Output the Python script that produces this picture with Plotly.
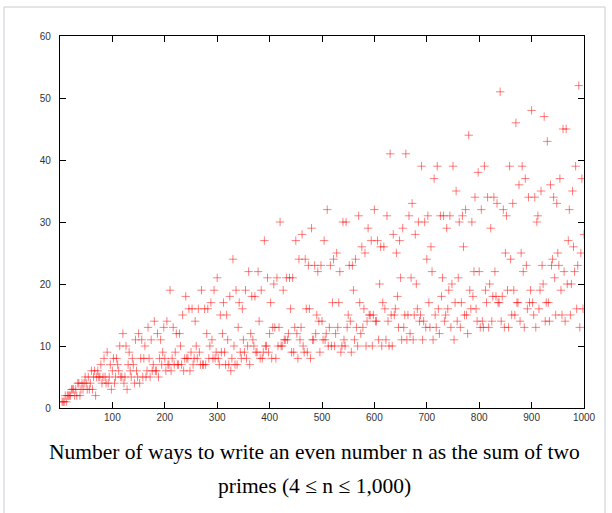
import plotly.graph_objects as go

# Even numbers n (4..1000) and number of ways to write n as a sum of two primes
n_values = list(range(4, 1001, 2))
ways = [
    1, 1, 1, 2, 1, 2, 2, 2, 2, 3,        # 4-22
    3, 3, 2, 3, 2, 4, 4, 2, 3, 4,        # 24-42
    3, 4, 5, 4, 3, 5, 3, 4, 6, 3,        # 44-62
    5, 6, 2, 5, 6, 5, 5, 7, 4, 5,        # 64-82
    8, 5, 4, 9, 4, 5, 7, 3, 6, 8,        # 84-102
    4, 5, 8, 7, 6, 10, 5, 5, 12, 4,      # 104-122
    5, 10, 3, 7, 9, 6, 5, 8, 7, 4,       # 124-142
    11, 6, 5, 12, 4, 8, 11, 5, 8, 10,    # 144-162
    5, 6, 13, 8, 5, 11, 6, 7, 14, 6,     # 164-182
    6, 12, 5, 8, 11, 7, 9, 13, 8, 6,     # 184-202
    14, 7, 7, 19, 6, 8, 13, 7, 9, 12,    # 204-222
    7, 7, 12, 10, 7, 15, 6, 8, 18, 8,    # 224-242
    8, 16, 6, 9, 16, 7, 8, 14, 10, 8,    # 244-262
    16, 9, 7, 19, 7, 7, 16, 7, 12, 16,   # 264-282
    8, 10, 17, 11, 8, 19, 8, 9, 21, 8,   # 284-302
    7, 15, 9, 12, 17, 9, 7, 15, 11, 7,   # 304-322
    18, 6, 8, 24, 10, 7, 19, 7, 13, 17,  # 324-342
    9, 8, 16, 11, 9, 19, 8, 10, 22, 7,   # 344-362
    12, 18, 11, 10, 18, 9, 9, 22, 14, 8, # 364-382
    19, 8, 9, 27, 10, 10, 21, 9, 12, 17, # 384-402
    8, 13, 20, 13, 8, 21, 10, 13, 30, 10,   # 404-422
    10, 19, 11, 11, 21, 11, 12, 21, 16, 9,  # 424-442
    21, 9, 13, 27, 12, 8, 24, 11, 13, 28,   # 444-462
    10, 9, 24, 16, 9, 23, 16, 8, 29, 11,    # 464-482
    11, 23, 12, 15, 22, 14, 9, 23, 14, 11,  # 484-502
    27, 11, 12, 32, 10, 13, 23, 10, 17, 24, # 504-522
    10, 12, 25, 13, 17, 22, 9, 10, 30, 11,  # 524-542
    10, 30, 13, 15, 23, 14, 9, 23, 19, 11,  # 544-562
    24, 13, 10, 31, 17, 12, 26, 13, 16, 25, # 564-582
    10, 14, 29, 15, 15, 27, 10, 15, 32, 14, # 584-602
    14, 27, 11, 20, 26, 10, 17, 26, 16, 11, # 604-622
    31, 14, 10, 41, 15, 10, 28, 15, 16, 25, # 624-642
    18, 13, 27, 21, 11, 29, 13, 15, 41, 11, # 644-662
    15, 31, 12, 21, 33, 11, 15, 28, 20, 16, # 664-682
    30, 14, 15, 39, 11, 14, 30, 13, 24, 31, # 684-702
    17, 13, 26, 22, 11, 37, 15, 13, 39, 16, # 704-722
    12, 31, 18, 21, 31, 14, 15, 29, 16, 19, # 724-742
    31, 13, 20, 39, 11, 17, 35, 14, 21, 30, # 744-762
    13, 17, 31, 26, 15, 32, 15, 12, 44, 19, # 764-782
    16, 30, 18, 22, 34, 16, 14, 38, 22, 13, # 784-802
    32, 14, 13, 39, 19, 17, 34, 13, 20, 29, # 804-822
    14, 18, 34, 22, 18, 33, 17, 17, 51, 14, # 824-842
    18, 32, 13, 25, 31, 19, 13, 39, 24, 15, # 844-862
    33, 19, 15, 46, 17, 17, 36, 14, 25, 39, # 864-882
    22, 13, 37, 23, 16, 34, 17, 19, 48, 17, # 884-902
    15, 34, 13, 30, 31, 16, 19, 35, 23, 20, # 904-922
    47, 14, 17, 43, 17, 14, 36, 23, 24, 34, # 924-942
    21, 15, 33, 25, 23, 37, 19, 15, 45, 22, # 944-962
    14, 45, 20, 27, 32, 15, 20, 35, 26, 22, # 964-982
    39, 16, 23, 52, 13, 25, 37, 16, 28,     # 984-1000
]
assert len(ways) == len(n_values)

x_ticks = [100, 200, 300, 400, 500, 600, 700, 800, 900, 1000]
y_ticks = [0, 10, 20, 30, 40, 50, 60]
caption_line1 = "Number of ways to write an even number n as the sum of two"
caption_line2 = "primes (4 \u2264 n \u2264 1,000)"

fig = go.Figure()
fig.add_trace(go.Scatter(
    x=n_values, y=ways, mode="markers",
    marker=dict(symbol="cross-thin", size=6,
                line=dict(color="rgba(255,0,0,0.5)", width=1)),
    hoverinfo="x+y", showlegend=False,
))

axis_common = dict(
    showline=True, linecolor="black", linewidth=1.2, mirror="ticks",
    ticks="inside", ticklen=6, tickcolor="black", tickwidth=1,
    showgrid=False, zeroline=False,
    tickfont=dict(family="Liberation Sans, Arial, sans-serif", size=10, color="#333"),
)
fig.update_xaxes(range=[0, 1000], tickvals=x_ticks, ticktext=[str(v) for v in x_ticks], **axis_common)
fig.update_yaxes(range=[0, 60], tickvals=y_ticks, ticktext=[str(v) for v in y_ticks],
                 ticklabelstandoff=6, **axis_common)

# thumbnail frame
fig.add_shape(type="rect", xref="paper", yref="paper",
              x0=(4 - 60) / 524, x1=(605 - 60) / 524,
              y0=(408 - 520) / 372, y1=(408 - 7) / 372,
              line=dict(color="#c8ccd1", width=1), fillcolor="rgba(0,0,0,0)", layer="below")

cap_font = dict(family="Liberation Serif, Times New Roman, serif", size=21.5, color="black")
fig.add_annotation(text=caption_line1, xref="paper", yref="paper",
                   x=(314 - 60) / 524, y=(408 - 452) / 372, xanchor="center", yanchor="middle",
                   showarrow=False, font=cap_font)
fig.add_annotation(text=caption_line2, xref="paper", yref="paper",
                   x=(314 - 60) / 524, y=(408 - 486) / 372, xanchor="center", yanchor="middle",
                   showarrow=False, font=cap_font)

fig.update_layout(
    width=612, height=513,
    margin=dict(l=60, r=28, t=36, b=105),
    paper_bgcolor="white", plot_bgcolor="white",
)

fig.write_html("out.html")
